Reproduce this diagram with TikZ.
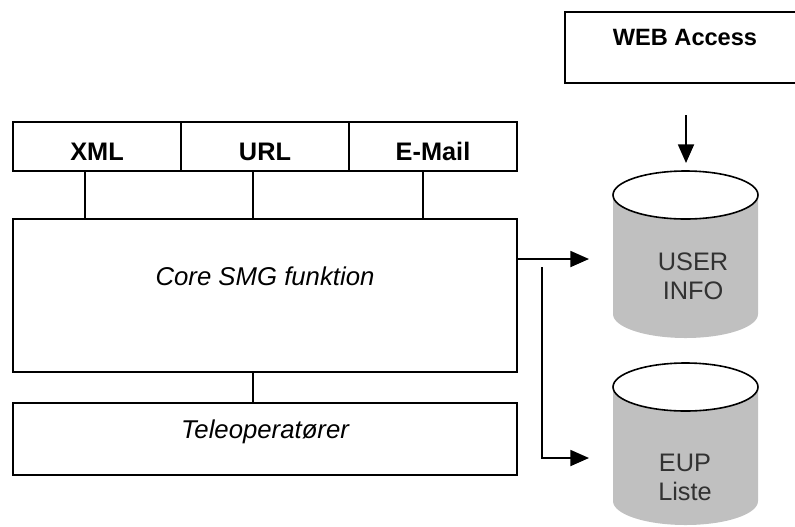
\documentclass[tikz,border=0pt]{standalone}
\usepackage{fontspec}
\setmainfont{Liberation Sans}
\usepackage{xcolor}
\usetikzlibrary{
    arrows.meta,
    calc,
    positioning
}
\definecolor{dbgray}{RGB}{192,192,192}
\definecolor{dbtext}{RGB}{50,50,50}
% x centre, top y, bottom y
\newcommand{\dbcylinder}[3]{
    \fill[dbgray]
    (#1-72.5, #2) -- (#1-72.5, #3)
    arc[start angle=180, end angle=360, x radius=72.5, y radius=24]
    -- (#1+72.5, #2) -- cycle;
    \draw[fill=white, line width=1.2pt] (#1, #2) ellipse[x radius=72.5, y radius=24];
}

\begin{document}
\begin{tikzpicture}[x=0.75pt, y=0.75pt, line width=1.4pt,
    box/.style={draw, rectangle, inner sep=0pt, outer sep=0pt,
        font=\fontsize{19}{22}\selectfont},
    cell/.style={box, minimum width=126pt, minimum height=36.75pt,
        text height=20.4pt, text depth=0pt,
        font=\fontsize{19}{22}\selectfont\bfseries},
    arr/.style={-{Triangle[length=14pt, width=12pt]}},
    db/.style={text=dbtext, align=center, font=\fontsize{19}{21.75}\selectfont}]
                        \useasboundingbox (0, 0) rectangle (795, -526);

                        \node[cell] (xml) at (97, -146.5) {XML};
                        \node[cell, right=0pt of xml] (url) {URL};
                        \node[cell, right=0pt of url] (mail) {E-Mail};

                        \node[box, minimum width=378pt, minimum height=114.75pt,
                            text height=13.6pt, text depth=29.2pt,
                            font=\fontsize{19.3}{22}\selectfont\itshape,
                            below=36pt of url] (core) {Core SMG funktion};
                        \node[box, minimum width=378pt, minimum height=54pt,
                            text height=13.6pt, text depth=14.2pt,
                            font=\fontsize{19.3}{22}\selectfont\itshape,
                            below=23.25pt of core] (tele) {Teleoperatører};

                        \draw
                        ([xshift=-9pt]xml.south) edge ([xshift=-9pt]xml.south |- core.north)
                        ([xshift=-9pt]url.south) edge ([xshift=-9pt]url.south |- core.north)
                        ([xshift=-7.5pt]mail.south) edge ([xshift=-7.5pt]mail.south |- core.north)
                        ([xshift=-9pt]core.south) edge ([xshift=-9pt]tele.north);

                        % web box runs off the right edge
                        \draw (795, -12) -| (565, -83) -- (795, -83);
                        \node[font=\fontsize{17.7}{21}\selectfont\bfseries] (web) at (685, -37) {WEB Access};

                        \dbcylinder{685.5}{-195}{-314}
                        \dbcylinder{685.5}{-387}{-501}
                        \node[db] (user) at (693, -276.5) {USER\\INFO};
                        \node[db] (eup) at (685, -477.5) {EUP\\Liste};

                        \coordinate (webout) at (686, -115);
                        \coordinate (usertop) at (686, -163);
                        \coordinate (userin) at (589, -259);
                        \coordinate (split) at (542, -267);
                        \coordinate (eupin) at (589, -458);
                        \draw[arr] (webout) -- (usertop);
                        \draw[arr] (core.east |- userin) -- (userin);
                        \draw[arr] (split) |- (eupin);
                    \end{tikzpicture}
\end{document}
